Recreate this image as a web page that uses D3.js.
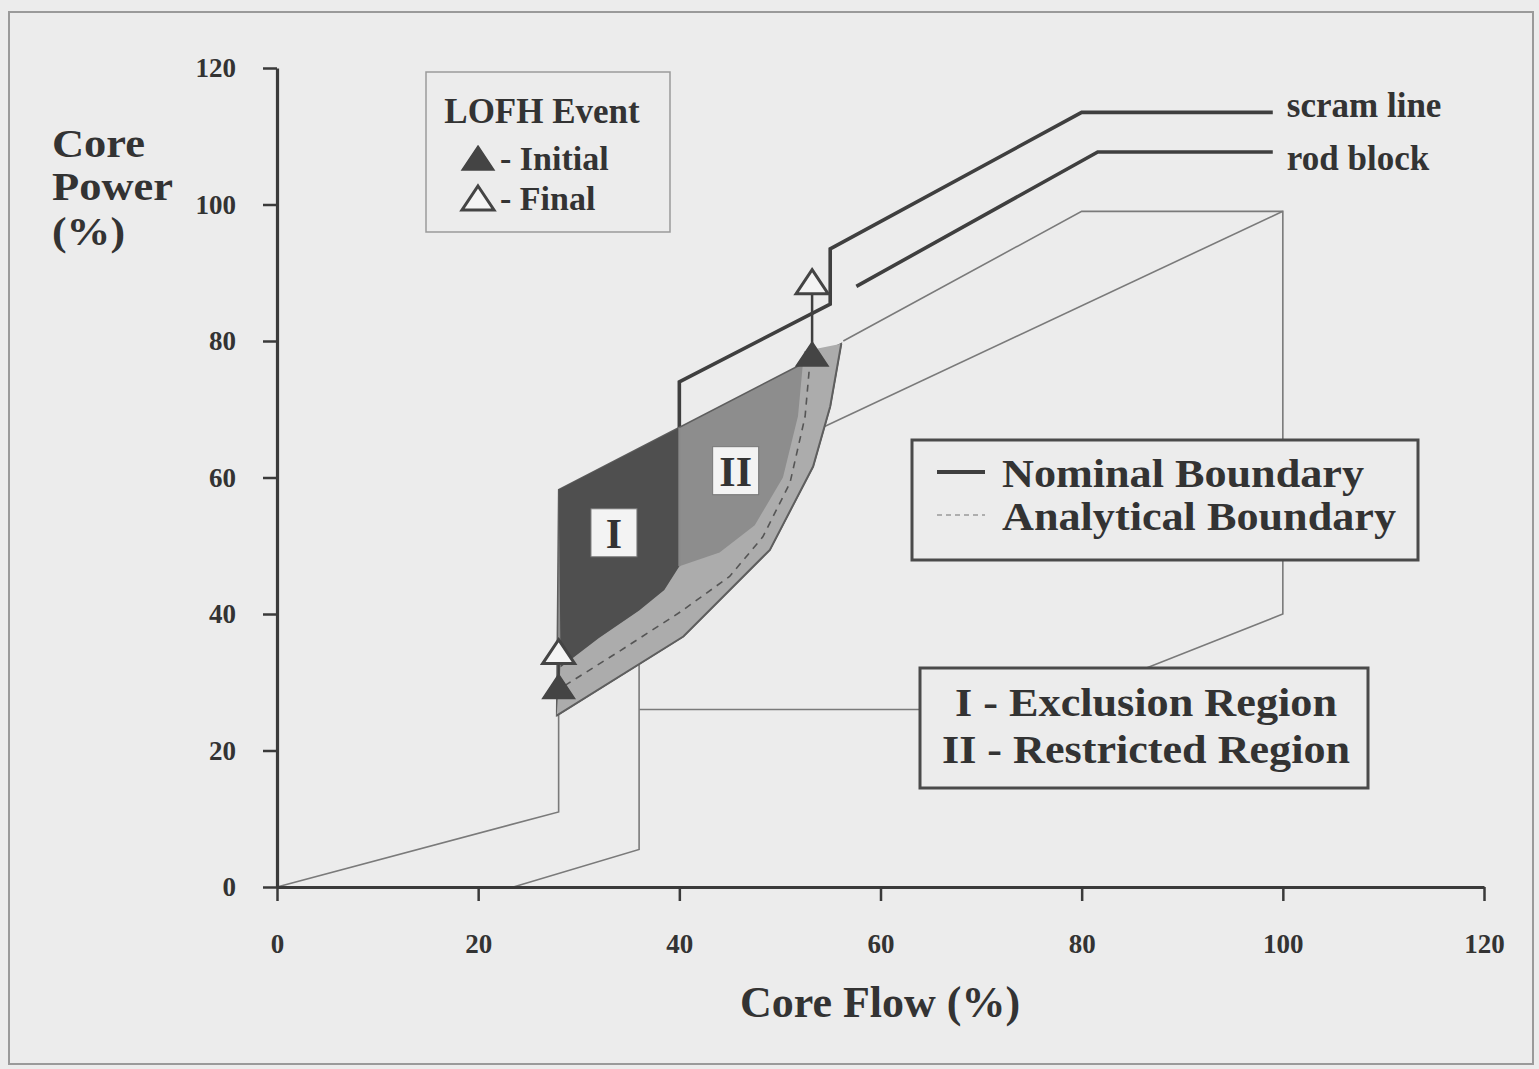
<!DOCTYPE html>
<html><head><meta charset="utf-8">
<script src="https://cdn.jsdelivr.net/npm/d3@7"></script>
<style>
body{margin:0;background:#ececec;}
svg{display:block;}
text{font-family:"Liberation Serif","Times New Roman",serif;font-weight:bold;fill:#333;}
</style></head>
<body>
<svg id="chart" width="1539" height="1069"></svg>
<script>
// ---------- data ----------
const xTicks = [0, 20, 40, 60, 80, 100, 120];
const yTicks = [0, 20, 40, 60, 80, 100, 120];
const scramLine = [[40,60],[40,74],[55,85.4],[55,93.5],[80,113.5],[99,113.5]];
const rodBlock = [[57.6,88],[81.6,107.7],[99,107.7]];
const lineA = [[0,0],[28,11],[28,30]];
const lineB = [[23.5,0],[36,5.5],[36,34]];
const lineC = [[36,26],[76,26],[100,40],[100,99],[80,99],[56.3,80]];
const lineD = [[52,65.8],[100,99]];
const regionII = [[28,58.2],[56.1,79.6],[55,70.4],[53.3,61.6],[49,49.4],[40.4,36.7],[27.8,25.1]];
const bandOuter = [[27.8,25.1],[40.4,36.7],[49,49.4],[53.3,61.6],[55,70.4],[56.1,79.6]];
const bandInner = [[52.4,78.5],[51.8,69],[50.3,60],[47.5,53],[44,49],[40,47],[38.5,43.5],[36,40.5],[32,36.5],[28.2,32.2]];
const regionI = [[28,58.2],[40,67.3],[40,47],[38.5,43.5],[36,40.5],[32,36.5],[28.2,32.2]];
const analytical = [[28.6,29.5],[34,34.5],[40.1,40.3],[45,45.5],[48.3,51.3],[51,59.2],[52.5,68.9],[53,77.2]];
const initialPts = [[28,29.1],[53.2,77.8]];
const finalPts = [[28,34.2],[53.2,88.4]];
const regionLabels = [{t:"I", x:33.5, y:51.9},{t:"II", x:45.6, y:61.0}];
const lineLabels = [{t:"scram line", x:100.4, y:112.8},{t:"rod block", x:100.4, y:105.1}];

// ---------- setup ----------
const svg = d3.select("#chart");
const W = 1539, H = 1069;
const x = d3.scaleLinear().domain([0,120]).range([277,1484]);
const y = d3.scaleLinear().domain([0,120]).range([887,68]);
const line = d3.line().x(d=>x(d[0])).y(d=>y(d[1]));

svg.append("rect").attr("width",W).attr("height",H).attr("fill","#ececec");
svg.append("rect").attr("x",9).attr("y",12).attr("width",1524).attr("height",1052)
  .attr("fill","none").attr("stroke","#9a9a9a").attr("stroke-width",2);

const plot = svg.append("g");

// thin boundary lines
[lineA, lineB, lineC, lineD].forEach(l=>{
  plot.append("path").attr("d", line(l)).attr("fill","none")
    .attr("stroke","#7a7a7a").attr("stroke-width",1.6);
});

// thick lines
[scramLine, rodBlock].forEach(l=>{
  plot.append("path").attr("d", line(l)).attr("fill","none")
    .attr("stroke","#3f3f3f").attr("stroke-width",3.6).attr("stroke-linejoin","miter");
});

// regions
plot.append("path").attr("d", line(regionII)+"Z").attr("fill","#8d8d8d")
  .attr("stroke","#5e5e5e").attr("stroke-width",1.5);
plot.append("path").attr("d", line(bandOuter.concat(bandInner))+"Z").attr("fill","#acacac");
plot.append("path").attr("d", line(bandOuter))
  .attr("fill","none").attr("stroke","#5e5e5e").attr("stroke-width",2);
plot.append("path").attr("d", line(regionI)+"Z").attr("fill","#4f4f4f");
plot.append("path").attr("d", line([[40,47],[40,67.3]])).attr("stroke","#8a8a8a").attr("stroke-width",2);
plot.append("path").attr("d", line(analytical)).attr("fill","none")
  .attr("stroke","#555").attr("stroke-width",1.6).attr("stroke-dasharray","7,6");

// region label boxes
regionLabels.forEach(r=>{
  const g = plot.append("g").attr("transform",`translate(${x(r.x)},${y(r.y)})`);
  g.append("rect").attr("x",-23).attr("y",-24).attr("width",46).attr("height",48)
    .attr("fill","#f3f3f3").attr("stroke","#777").attr("stroke-width",1);
  g.append("text").attr("text-anchor","middle").attr("y",15).attr("font-size",42).attr("fill","#3a3a3a").text(r.t);
});

// arrows initial -> final
initialPts.forEach((p,i)=>{
  plot.append("path").attr("d", line([p, finalPts[i]])).attr("stroke","#3f3f3f").attr("stroke-width",2.5);
});
const tri = (cx,cy)=>`M${cx},${cy-14}L${cx+16},${cy+10}L${cx-16},${cy+10}Z`;
initialPts.forEach(p=>{
  plot.append("path").attr("d", tri(x(p[0]),y(p[1]))).attr("fill","#444").attr("stroke","#444").attr("stroke-width",1.5);
});
finalPts.forEach(p=>{
  plot.append("path").attr("d", tri(x(p[0]),y(p[1]))).attr("fill","#f4f4f4").attr("stroke","#444").attr("stroke-width",3);
});

// axes
const gx = svg.append("g").attr("transform",`translate(0,${y(0)})`)
  .call(d3.axisBottom(x).tickValues(xTicks).tickSize(14).tickSizeOuter(0).tickPadding(33));
const gy = svg.append("g").attr("transform",`translate(${x(0)},0)`)
  .call(d3.axisLeft(y).tickValues(yTicks).tickSize(14).tickSizeOuter(0).tickPadding(27));
[gx, gy].forEach(g=>{
  g.select(".domain").attr("stroke","#3a3a3a").attr("stroke-width",3.2);
  g.selectAll(".tick line").attr("stroke","#3a3a3a").attr("stroke-width",2.5);
  g.selectAll(".tick text").attr("font-size",27).attr("font-family","Liberation Serif, serif")
    .attr("font-weight","bold").attr("fill","#444");
});

// line labels
lineLabels.forEach(l=>{
  svg.append("text").attr("x",x(l.x)).attr("y",y(l.y)).attr("font-size",35).text(l.t);
});

// helper for stacked text with fixed width
function stackText(tx, ty, size, str, len, anchor){
  const t = svg.append("text").attr("x",tx).attr("y",ty).attr("font-size",size).text(str);
  if (anchor) t.attr("text-anchor",anchor);
  if (len) t.attr("textLength",len).attr("lengthAdjust","spacingAndGlyphs");
  return t;
}

// axis titles
svg.append("text").attr("x",880).attr("y",1017).attr("text-anchor","middle").attr("font-size",44).text("Core Flow (%)");
stackText(52, 157, 39, "Core", 93);
stackText(52, 200, 39, "Power", 121);
stackText(52, 245, 39, "(%)", 73);

// LOFH legend box
svg.append("rect").attr("x",426).attr("y",72).attr("width",244).attr("height",160)
  .attr("fill","#ececec").attr("stroke","#9a9a9a").attr("stroke-width",1.5);
svg.append("text").attr("x",542).attr("y",123).attr("text-anchor","middle").attr("font-size",35).text("LOFH Event");
svg.append("path").attr("d",tri(478,160)).attr("fill","#444").attr("stroke","#444").attr("stroke-width",1.5);
svg.append("text").attr("x",500).attr("y",170).attr("font-size",34).text("- Initial");
svg.append("path").attr("d",tri(478,200)).attr("fill","#f4f4f4").attr("stroke","#444").attr("stroke-width",3);
svg.append("text").attr("x",500).attr("y",210).attr("font-size",34).text("- Final");

// boundary legend box
svg.append("rect").attr("x",912).attr("y",440).attr("width",506).attr("height",120)
  .attr("fill","#ececec").attr("stroke","#4a4a4a").attr("stroke-width",3);
svg.append("line").attr("x1",937).attr("x2",985).attr("y1",472).attr("y2",472).attr("stroke","#3f3f3f").attr("stroke-width",4);
svg.append("line").attr("x1",937).attr("x2",985).attr("y1",515).attr("y2",515).attr("stroke","#999").attr("stroke-width",1.5).attr("stroke-dasharray","5,4");
stackText(1002, 487, 39, "Nominal Boundary", 362);
stackText(1002, 530, 39, "Analytical Boundary", 394);

// region legend box
svg.append("rect").attr("x",920).attr("y",668).attr("width",448).attr("height",120)
  .attr("fill","#ececec").attr("stroke","#4a4a4a").attr("stroke-width",3);
stackText(1146, 716, 39, "I - Exclusion Region", 382, "middle");
stackText(1146, 763, 39, "II - Restricted Region", 408, "middle");
</script>
</body></html>
